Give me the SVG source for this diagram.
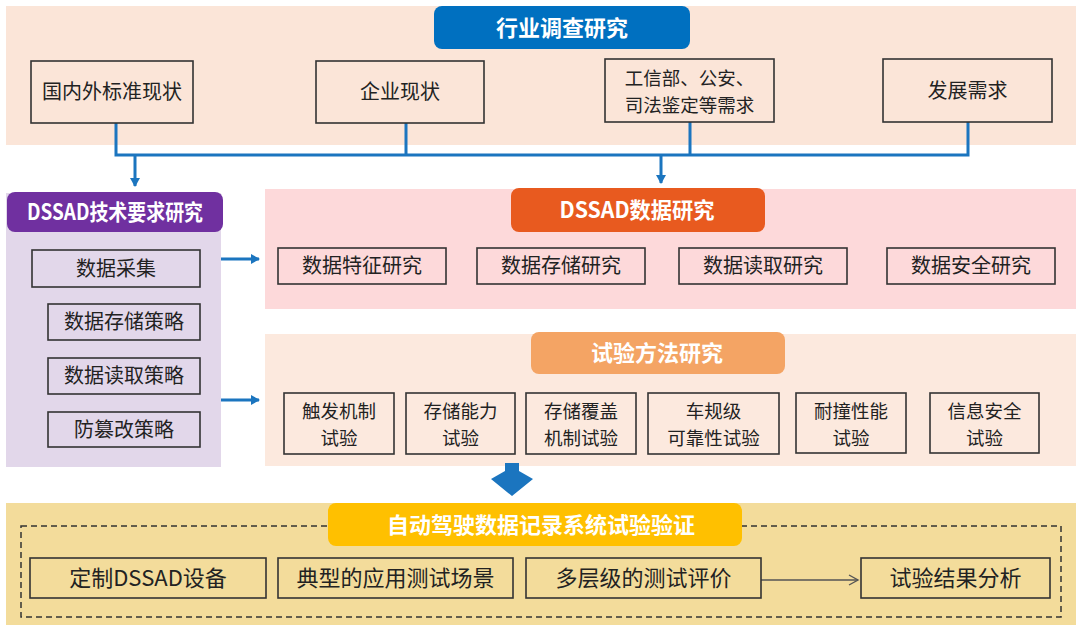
<svg xmlns="http://www.w3.org/2000/svg" width="1080" height="628" viewBox="0 0 1080 628">
<defs>
<style>
.bx{fill:none;stroke:#333;stroke-width:1.6}
.t{font-family:"Noto Sans CJK SC","Noto Sans",sans-serif;font-size:20px;fill:#222;text-anchor:middle}
.t2{font-size:18.5px}
.tb{font-size:22px}
.h{font-family:"Noto Sans CJK SC","Noto Sans",sans-serif;font-size:22px;font-weight:bold;fill:#fff;text-anchor:middle}
.c{fill:none;stroke:#1B75BF;stroke-width:3}
</style>
<marker id="ah" markerWidth="10" markerHeight="10" refX="8" refY="5" orient="auto" markerUnits="userSpaceOnUse">
<path d="M0,0 L9,5 L0,10 Z" fill="#1B75BF"/>
</marker>
<marker id="ahg" markerWidth="12" markerHeight="12" refX="10" refY="6" orient="auto" markerUnits="userSpaceOnUse">
<path d="M1,1 L10,6 L1,11" fill="none" stroke="#555" stroke-width="1.4"/>
</marker>
</defs>
<rect width="1080" height="628" fill="#fff"/>

<!-- panels -->
<rect x="6" y="6" width="1070" height="139" fill="#FBE5D8"/>
<rect x="6" y="193" width="215" height="274" fill="#E2D7EA"/>
<rect x="265" y="189" width="811" height="120" fill="#FDD9DA"/>
<rect x="265" y="334" width="811" height="132" fill="#FCE9DE"/>
<rect x="6" y="503" width="1070" height="122" fill="#F3DC9B"/>
<rect x="21" y="526" width="1040" height="91" fill="none" stroke="#333" stroke-width="1.5" stroke-dasharray="6,4"/>

<!-- connectors -->
<g id="connectors">
<path class="c" d="M116,123 V155 H968 V122 M406,123 V155 M690,122 V155"/>
<path class="c" d="M135,155 V186" marker-end="url(#ah)"/>
<path class="c" d="M661,155 V183" marker-end="url(#ah)"/>
<path class="c" d="M221,259 H259" marker-end="url(#ah)"/>
<path class="c" d="M221,400 H259" marker-end="url(#ah)"/>
<polygon points="505,463 519,463 519,471 533,479 512,496 491,479 505,471" fill="#1B75BF"/>
<path d="M761,580 H858" fill="none" stroke="#555" stroke-width="1.4" marker-end="url(#ahg)"/>
</g>

<!-- headers -->
<g id="h-industry"><rect x="434" y="6" width="256" height="43" rx="8" fill="#0070C0"/><text class="h" x="562" y="36" font-size="23">行业调查研究</text></g>
<g id="h-tech"><rect x="7" y="192" width="216" height="40" rx="8" fill="#7030A0"/><text class="h" x="115" y="220" textLength="176" lengthAdjust="spacingAndGlyphs">DSSAD技术要求研究</text></g>
<g id="h-data"><rect x="511" y="188" width="254" height="44" rx="8" fill="#E85A1F"/><text class="h" x="637" y="218" textLength="155" lengthAdjust="spacingAndGlyphs">DSSAD数据研究</text></g>
<g id="h-test"><rect x="531" y="332" width="254" height="42" rx="8" fill="#F4A464"/><text class="h" x="657" y="361" font-size="23">试验方法研究</text></g>
<g id="h-verify"><rect x="328" y="503" width="414" height="43" rx="8" fill="#FFC000"/><text class="h" x="541" y="533" font-size="23">自动驾驶数据记录系统试验验证</text></g>

<!-- top boxes -->
<g id="n-std"><rect class="bx" x="31" y="61" width="162" height="62"/><text class="t" x="112" y="99">国内外标准现状</text></g>
<g id="n-ent"><rect class="bx" x="316" y="61" width="168" height="62"/><text class="t" x="400" y="99">企业现状</text></g>
<g id="n-req"><rect class="bx" x="605" y="59" width="169" height="63"/><text class="t t2" x="689.5" y="84.5">工信部、公安、</text><text class="t t2" x="689.5" y="111.5">司法鉴定等需求</text></g>
<g id="n-dev"><rect class="bx" x="883" y="59" width="169" height="63"/><text class="t" x="967.5" y="98">发展需求</text></g>

<!-- purple boxes -->
<g id="n-collect"><rect class="bx" x="32" y="250" width="168" height="37"/><text class="t" x="116" y="276">数据采集</text></g>
<g id="n-storep"><rect class="bx" x="48" y="304" width="152" height="36"/><text class="t" x="124" y="329">数据存储策略</text></g>
<g id="n-readp"><rect class="bx" x="48" y="358" width="152" height="36"/><text class="t" x="124" y="383">数据读取策略</text></g>
<g id="n-tamper"><rect class="bx" x="48" y="412" width="152" height="35"/><text class="t" x="124" y="437">防篡改策略</text></g>

<!-- pink boxes -->
<g id="n-feat"><rect class="bx" x="278" y="248" width="168" height="36"/><text class="t" x="362" y="273">数据特征研究</text></g>
<g id="n-store"><rect class="bx" x="477" y="248" width="168" height="36"/><text class="t" x="561" y="273">数据存储研究</text></g>
<g id="n-read"><rect class="bx" x="679" y="248" width="168" height="36"/><text class="t" x="763" y="273">数据读取研究</text></g>
<g id="n-sec"><rect class="bx" x="887" y="248" width="168" height="36"/><text class="t" x="971" y="273">数据安全研究</text></g>

<!-- test boxes -->
<g id="n-trig"><rect class="bx" x="284" y="393" width="110" height="61"/><text class="t t2" x="339" y="417.5">触发机制</text><text class="t t2" x="339" y="444.5">试验</text></g>
<g id="n-cap"><rect class="bx" x="406" y="393" width="109" height="61"/><text class="t t2" x="460.5" y="417.5">存储能力</text><text class="t t2" x="460.5" y="444.5">试验</text></g>
<g id="n-cover"><rect class="bx" x="526" y="393" width="110" height="61"/><text class="t t2" x="581" y="417.5">存储覆盖</text><text class="t t2" x="581" y="444.5">机制试验</text></g>
<g id="n-rel"><rect class="bx" x="648" y="393" width="131" height="61"/><text class="t t2" x="713.5" y="417.5">车规级</text><text class="t t2" x="713.5" y="444.5">可靠性试验</text></g>
<g id="n-crash"><rect class="bx" x="796" y="393" width="110" height="60"/><text class="t t2" x="851" y="417.5">耐撞性能</text><text class="t t2" x="851" y="444.5">试验</text></g>
<g id="n-infosec"><rect class="bx" x="930" y="393" width="109" height="60"/><text class="t t2" x="984.5" y="417.5">信息安全</text><text class="t t2" x="984.5" y="444.5">试验</text></g>

<!-- bottom boxes -->
<g id="n-custom"><rect class="bx" x="30" y="558" width="236" height="40"/><text class="t tb" x="148" y="586">定制DSSAD设备</text></g>
<g id="n-scene"><rect class="bx" x="278" y="558" width="235" height="40"/><text class="t tb" x="395.5" y="586">典型的应用测试场景</text></g>
<g id="n-eval"><rect class="bx" x="526" y="558" width="235" height="40"/><text class="t tb" x="643.5" y="586">多层级的测试评价</text></g>
<g id="n-result"><rect class="bx" x="861" y="558" width="189" height="40"/><text class="t tb" x="955.5" y="586">试验结果分析</text></g>
</svg>
